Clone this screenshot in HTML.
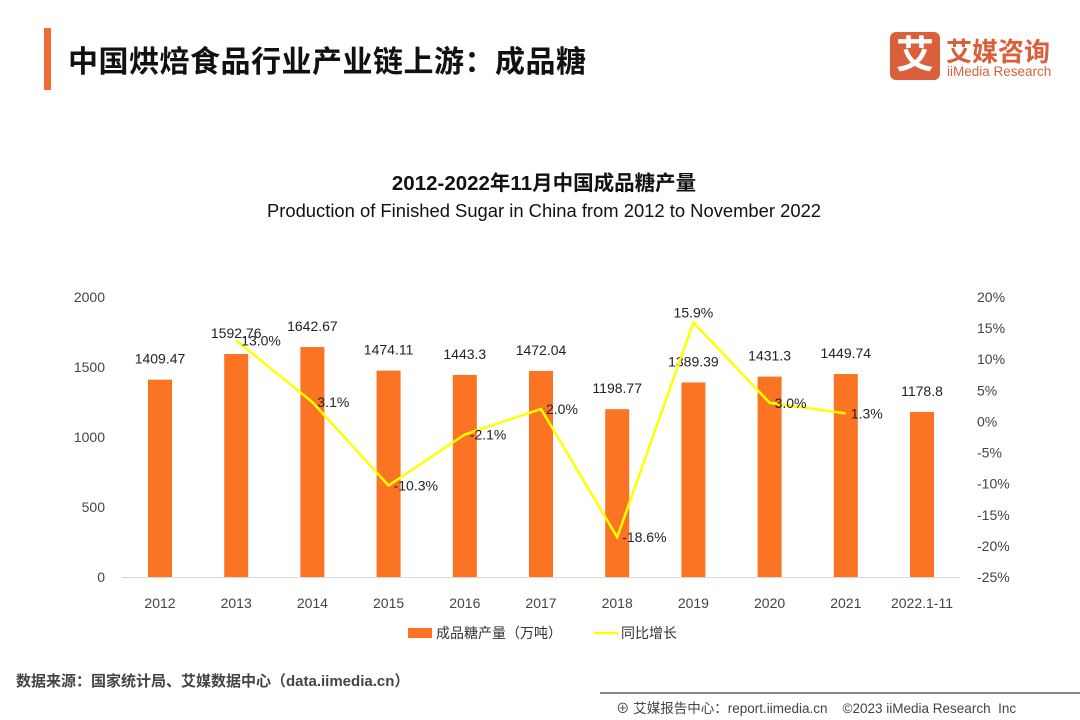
<!DOCTYPE html>
<html><head><meta charset="utf-8"><style>
body{margin:0;width:1080px;height:720px;background:#fff;font-family:"Liberation Sans","Noto Sans CJK SC",sans-serif;position:relative;overflow:hidden}
.abs{position:absolute}
</style></head><body>
<div class="abs" style="left:44px;top:28px;width:7px;height:62px;background:#f06a35"></div>
<div class="abs" style="left:68px;top:37px;font-size:30px;font-weight:bold;color:#111;letter-spacing:0.5px">中国烘焙食品行业产业链上游：成品糖</div>
<div class="abs" style="left:890px;top:32px;width:50px;height:48px;background:#d9603b;border-radius:6px;color:#fff;font-size:38px;line-height:48px;text-align:center;font-weight:bold">艾</div>
<div class="abs" style="left:946px;top:32px;font-size:26px;color:#d9603b;font-weight:bold;letter-spacing:0px">艾媒咨询</div>
<div class="abs" style="left:947px;top:64px;font-size:13.5px;color:#d9603b">iiMedia Research</div>
<div class="abs" style="left:0;width:1088px;top:166px;text-align:center;font-size:20.5px;font-weight:bold;color:#111">2012-2022年11月中国成品糖产量</div>
<div class="abs" style="left:0;width:1088px;top:200px;text-align:center;font-size:18.4px;color:#111">Production  of Finished Sugar in China from 2012 to November 2022</div>
<svg class="abs" style="left:0;top:0" width="1080" height="720" id="chart"></svg>
<div class="abs" style="left:16px;top:670px;font-size:15px;color:#444;font-weight:bold">数据来源：国家统计局、艾媒数据中心（data.iimedia.cn）</div>
<div class="abs" style="left:600px;top:692px;width:480px;height:2px;background:#888"></div>
<div class="abs" style="left:616px;top:697px;font-size:13.5px;color:#444;white-space:pre">⊕ 艾媒报告中心：report.iimedia.cn    ©2023 iiMedia Research  Inc</div>
<script>
const categories=["2012","2013","2014","2015","2016","2017","2018","2019","2020","2021","2022.1-11"];
const production=[1409.47,1592.76,1642.67,1474.11,1443.3,1472.04,1198.77,1389.39,1431.3,1449.74,1178.8];
const productionLabels=["1409.47","1592.76","1642.67","1474.11","1443.3","1472.04","1198.77","1389.39","1431.3","1449.74","1178.8"];
const growth=[null,13.0,3.1,-10.3,-2.1,2.0,-18.6,15.9,3.0,1.3,null];
const leftTicks=[0,500,1000,1500,2000];
const rightTicks=[20,15,10,5,0,-5,-10,-15,-20,-25];
const svg=document.getElementById('chart');
const NS='http://www.w3.org/2000/svg';
const yL=v=>577-v*280/2000;
const yR=v=>297+(20-v)*280/45;
const xC=i=>160+i*76.2;
function mk(t,a,txt){const e=document.createElementNS(NS,t);for(const k in a)e.setAttribute(k,a[k]);if(txt!==undefined)e.textContent=txt;svg.appendChild(e);return e;}
const ax=mk('line',{x1:122,x2:960,y1:577.5,y2:577.5,stroke:'#d9d9d9'});


leftTicks.forEach(v=>{const t=mk('text',{x:105,y:yL(v)+5,'text-anchor':'end','font-size':14,fill:'#444'},String(v));

});
rightTicks.forEach(v=>{const t=mk('text',{x:977,y:yR(v)+5,'font-size':14,fill:'#444'},v+'%');

});
categories.forEach((c,i)=>{
const b=mk('rect',{x:xC(i)-12,y:yL(production[i]),width:24,height:577-yL(production[i]),fill:'#fa7423'});


const l=mk('text',{x:xC(i),y:yL(production[i])-16,'text-anchor':'middle','font-size':14,fill:'#222'},productionLabels[i]);


const xl=mk('text',{x:xC(i),y:608,'text-anchor':'middle','font-size':14,fill:'#444'},c);


});
let pts=[];growth.forEach((g,i)=>{if(g!==null)pts.push(xC(i)+','+yR(g));});
const pl=mk('polyline',{points:pts.join(' '),fill:'none',stroke:'#ffff00','stroke-width':2.5});


growth.forEach((g,i)=>{if(g===null)return;
const t=mk('text',{x:xC(i)+(i==7?0:5),y:yR(g)+(i==7?-5:5),'text-anchor':i==7?'middle':'start','font-size':14,fill:'#222'},g.toFixed(1)+'%');

});
const lg1=mk('rect',{x:408,y:628,width:24,height:10,fill:'#fa7423'});


const lt1=mk('text',{x:436,y:638,'font-size':14,fill:'#333'},'成品糖产量（万吨）');


const lg2=mk('line',{x1:594,x2:618,y1:633,y2:633,stroke:'#ffff00','stroke-width':2.5});


const lt2=mk('text',{x:621,y:638,'font-size':14,fill:'#333'},'同比增长');


</script>
</body></html>
